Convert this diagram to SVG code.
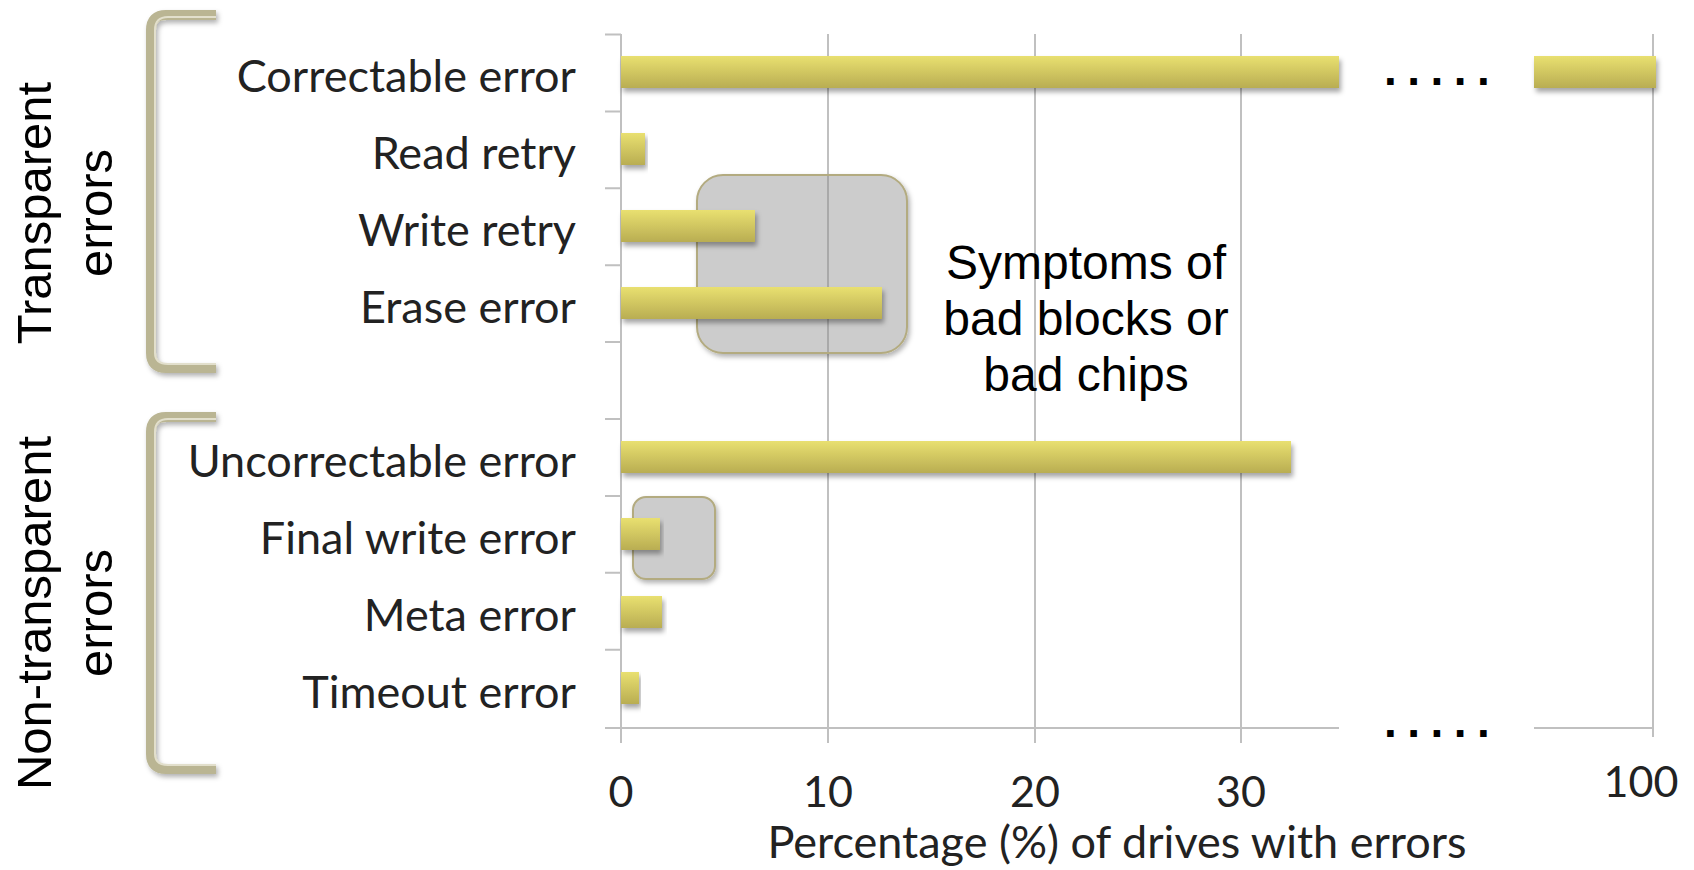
<svg xmlns="http://www.w3.org/2000/svg" width="1694" height="870" viewBox="0 0 1694 870">
<defs>
  <linearGradient id="barGrad" x1="0" y1="0" x2="0" y2="1">
    <stop offset="0" stop-color="#e9e070"/>
    <stop offset="1" stop-color="#b9ad52"/>
  </linearGradient>
  <filter id="shadow" x="-5%" y="-30%" width="115%" height="180%">
    <feDropShadow dx="2" dy="4" stdDeviation="2.5" flood-color="#000" flood-opacity="0.35"/>
  </filter>
  <filter id="bshadow" x="-30%" y="-10%" width="160%" height="130%">
    <feDropShadow dx="2" dy="3" stdDeviation="2.5" flood-color="#000" flood-opacity="0.3"/>
  </filter>
</defs>
<style>
  .grid { stroke: #c0c0c0; stroke-width: 2; fill: none; }
  .bar { fill: url(#barGrad); filter: url(#shadow); }
  .box { fill: #cccccc; stroke: #b3ab80; stroke-width: 2; filter: url(#bshadow); }
  .gridover { stroke: #a9a9a9; stroke-width: 2; }
  .cat { font-family: Lato, "Liberation Sans", sans-serif; font-size: 45px; fill: #222; text-anchor: end; }
  .tick { font-family: Lato, "Liberation Sans", sans-serif; font-size: 43px; fill: #222; text-anchor: middle; }
  .title { font-family: Lato, "Liberation Sans", sans-serif; font-size: 45px; fill: #222; text-anchor: middle; }
  .grp { font-family: "Liberation Sans", Arial, sans-serif; font-size: 49px; fill: #000; text-anchor: middle; }
  .note { font-family: "Liberation Sans", Arial, sans-serif; font-size: 48px; fill: #000; text-anchor: middle; }
  .dots { font-family: "Liberation Sans", Arial, sans-serif; font-size: 46px; font-weight: bold; fill: #000; }
  .brk { fill: none; stroke: #bab593; stroke-width: 10; stroke-linecap: butt; stroke-linejoin: round; filter: url(#bshadow); }
  .brkhi { fill: none; stroke: #e2dfcc; stroke-width: 2; }
</style>
<rect width="1694" height="870" fill="#fff"/>

<g id="axes">
  <line class="grid" x1="621" y1="34" x2="621" y2="743"/>
  <line class="grid" x1="828" y1="34" x2="828" y2="743"/>
  <line class="grid" x1="1035" y1="34" x2="1035" y2="743"/>
  <line class="grid" x1="1241" y1="34" x2="1241" y2="743"/>
  <line class="grid" x1="1653" y1="34" x2="1653" y2="737"/>
  <path class="grid" d="M605 34.5H621M605 111.4H621M605 188.3H621M605 265.2H621M605 342.1H621M605 419H621M605 495.9H621M605 572.8H621M605 649.7H621"/>
  <path class="grid" d="M605 728H1339M1534 728H1653"/>
</g>

<g id="highlight-boxes">
  <rect id="box-bad-blocks" class="box" x="697" y="175" width="210" height="178" rx="26"/>
  <line class="gridover" x1="828" y1="176" x2="828" y2="352"/>
  <rect id="box-final-write" class="box" x="633" y="497" width="82" height="82" rx="13"/>
</g>

<g id="bars">
  <rect id="bar-correctable-a" class="bar" x="621" y="56" width="718" height="32"/>
  <rect id="bar-correctable-b" class="bar" x="1534" y="56" width="122" height="32"/>
  <rect id="bar-read-retry" class="bar" x="621" y="133" width="24" height="32"/>
  <rect id="bar-write-retry" class="bar" x="621" y="210" width="134" height="32"/>
  <rect id="bar-erase" class="bar" x="621" y="287" width="261" height="32"/>
  <rect id="bar-uncorrectable" class="bar" x="621" y="441" width="670" height="32"/>
  <rect id="bar-final-write" class="bar" x="621" y="518" width="39" height="32"/>
  <rect id="bar-meta" class="bar" x="621" y="596" width="41" height="32"/>
  <rect id="bar-timeout" class="bar" x="621" y="672" width="18" height="32"/>
</g>

<g id="category-labels">
  <text class="cat" x="576" y="92">Correctable error</text>
  <text class="cat" x="576" y="169">Read retry</text>
  <text class="cat" x="576" y="246">Write retry</text>
  <text class="cat" x="576" y="323">Erase error</text>
  <text class="cat" x="576" y="477">Uncorrectable error</text>
  <text class="cat" x="576" y="554">Final write error</text>
  <text class="cat" x="576" y="631">Meta error</text>
  <text class="cat" x="576" y="708">Timeout error</text>
</g>

<g id="tick-labels">
  <text class="tick" x="621" y="807">0</text>
  <text class="tick" x="828" y="807">10</text>
  <text class="tick" x="1035" y="807">20</text>
  <text class="tick" x="1241" y="807">30</text>
  <text class="tick" x="1641" y="797">100</text>
  <text class="title" x="1117" y="858">Percentage (%) of drives with errors</text>
</g>

<g id="breaks">
  <text class="dots" x="1384" y="85" letter-spacing="10.5">.....</text>
  <text class="dots" x="1384" y="737" letter-spacing="10.5">.....</text>
</g>

<g id="group-transparent">
  <path class="brk" d="M216 15 H166 Q151 15 151 30 V353 Q151 368 166 368 H216"/>
  <path class="brkhi" d="M216 17 H168 Q155 17 155 30 V353 Q155 364 168 364 H216"/>
  <text class="grp" transform="translate(51,213) rotate(-90)">Transparent</text>
  <text class="grp" transform="translate(112,213) rotate(-90)">errors</text>
</g>

<g id="group-nontransparent">
  <path class="brk" d="M216 417 H166 Q151 417 151 432 V754 Q151 769 166 769 H216"/>
  <path class="brkhi" d="M216 419 H168 Q155 419 155 432 V754 Q155 765 168 765 H216"/>
  <text class="grp" transform="translate(51,613) rotate(-90)">Non-transparent</text>
  <text class="grp" transform="translate(112,613) rotate(-90)">errors</text>
</g>

<g id="note">
  <text class="note" x="1086" y="279">Symptoms of</text>
  <text class="note" x="1086" y="335">bad blocks or</text>
  <text class="note" x="1086" y="391">bad chips</text>
</g>
</svg>
